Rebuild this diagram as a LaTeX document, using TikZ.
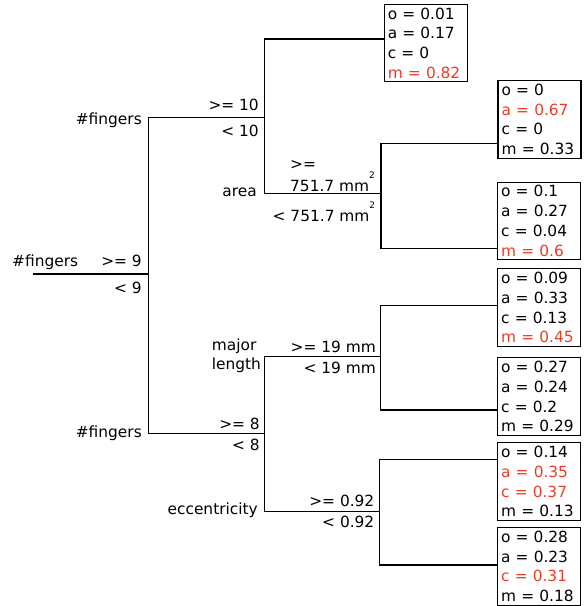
\documentclass[tikz,border=0pt]{standalone}
\usepackage{fontspec}
\setmainfont{DejaVu Sans}
\definecolor{hl}{RGB}{238,60,38}
\newcommand{\sqsup}{\raisebox{12.5pt}{\fontsize{9}{9}\selectfont 2}}
\tikzset{
  edge/.style={line width=1.4pt, line cap=rect},
  lab/.style={inner sep=0pt, font=\fontsize{15.4}{19.7}\selectfont},
  labR/.style={lab, anchor=base east},
  labL/.style={lab, anchor=base west},
  leaf/.style={draw, line width=1.2pt, anchor=north west, align=left,
    text width=75.5pt, minimum width=83pt, minimum height=77.5pt,
    inner xsep=3.5pt, inner ysep=0pt, font=\fontsize{15.4}{19.7}\selectfont},
}
\begin{document}
\begin{tikzpicture}[x=1pt,y=-1pt]
\useasboundingbox (0,0) rectangle (584,606);
% junction coordinates
\coordinate (root) at (33.3,274);
\coordinate (n1) at (148.5,274);
\coordinate (n1t) at (148.5,117.3);
\coordinate (n1b) at (148.5,433.5);
\coordinate (n2t) at (264.5,39);
\coordinate (n2b) at (264.5,193.5);
\coordinate (n3t) at (381,143.3);
\coordinate (n3b) at (381,248.5);
\coordinate (n4t) at (264.5,356.7);
\coordinate (n4b) at (264.5,511.7);
\coordinate (n5t) at (380.5,305.5);
\coordinate (n5b) at (380.5,410);
\coordinate (n6t) at (379.5,459.5);
\coordinate (n6b) at (379.5,565);
% leaves
\node[leaf] (L1) at (383.5,3.6) {o = 0.01\\a = 0.17\\c = 0\\\textcolor{hl}{m = 0.82}};
\node[leaf] (L2) at (497.3,80) {o = 0\\\textcolor{hl}{a = 0.67}\\c = 0\\m = 0.33};
\node[leaf] (L3) at (496.8,181.5) {o = 0.1\\a = 0.27\\c = 0.04\\\textcolor{hl}{m = 0.6}};
\node[leaf] (L4) at (496.8,268.2) {o = 0.09\\a = 0.33\\c = 0.13\\\textcolor{hl}{m = 0.45}};
\node[leaf] (L5) at (496.8,357.2) {o = 0.27\\a = 0.24\\c = 0.2\\m = 0.29};
\node[leaf] (L6) at (496.8,442.2) {o = 0.14\\\textcolor{hl}{a = 0.35}\\\textcolor{hl}{c = 0.37}\\m = 0.13};
\node[leaf] (L7) at (496.8,527) {o = 0.28\\a = 0.23\\\textcolor{hl}{c = 0.31}\\m = 0.18};
% tree edges
\draw[edge] (root) -- (n1);
\draw[edge] (n1t) -- (n1b);
\draw[edge] (n1t) -- (n1t -| n2t);
\draw[edge] (n1b) -- (n1b -| n4t);
\draw[edge] (n2t) -- (n2b);
\draw[edge] (n2t) -- (L1.west |- n2t);
\draw[edge] (n2b) -- (n2b -| n3t);
\draw[edge] (n3t) -- (n3b);
\draw[edge] (n3t) -- (L2.west |- n3t);
\draw[edge] (n3b) -- (L3.west |- n3b);
\draw[edge] (n4t) -- (n4b);
\draw[edge] (n4t) -- (n4t -| n5t);
\draw[edge] (n4b) -- (n4b -| n6t);
\draw[edge] (n5t) -- (n5b);
\draw[edge] (n5t) -- (L4.west |- n5t);
\draw[edge] (n5b) -- (L5.west |- n5b);
\draw[edge] (n6t) -- (n6b);
\draw[edge] (n6t) -- (L6.west |- n6t);
\draw[edge] (n6b) -- (L7.west |- n6b);
% labels
\node[labL] (f0) at (12,266.7) {\#fingers};
\node[labR] (g9) at (142,266.7) {>= 9};
\node[labR] (l9) at (142,293) {< 9};
\node[labR] (f1) at (142,124) {\#fingers};
\node[labR] (g10) at (259,110.5) {>= 10};
\node[labR] (l10) at (259,136.5) {< 10};
\node[labR] (ar) at (257,196.5) {area};
\node[labL] (ga1) at (290,169) {>=};
\node[labL] (ga2) at (290,191) {751.7 mm\sqsup};
\node[labL] (la) at (272.5,221) {< 751.7 mm\sqsup};
\node[labR] (f2) at (142,437.5) {\#fingers};
\node[labR] (g8) at (260,429) {>= 8};
\node[labR] (l8) at (260,450) {< 8};
\node[labL] (mj1) at (211.7,350) {major};
\node[labL] (mj2) at (211.7,369.5) {length};
\node[labR] (g19) at (376,352) {>= 19 mm};
\node[labR] (l19) at (376,373.3) {< 19 mm};
\node[labR] (ec) at (258,514) {eccentricity};
\node[labR] (g92) at (374.5,506) {>= 0.92};
\node[labR] (l92) at (374.5,527.3) {< 0.92};
\end{tikzpicture}
\end{document}
